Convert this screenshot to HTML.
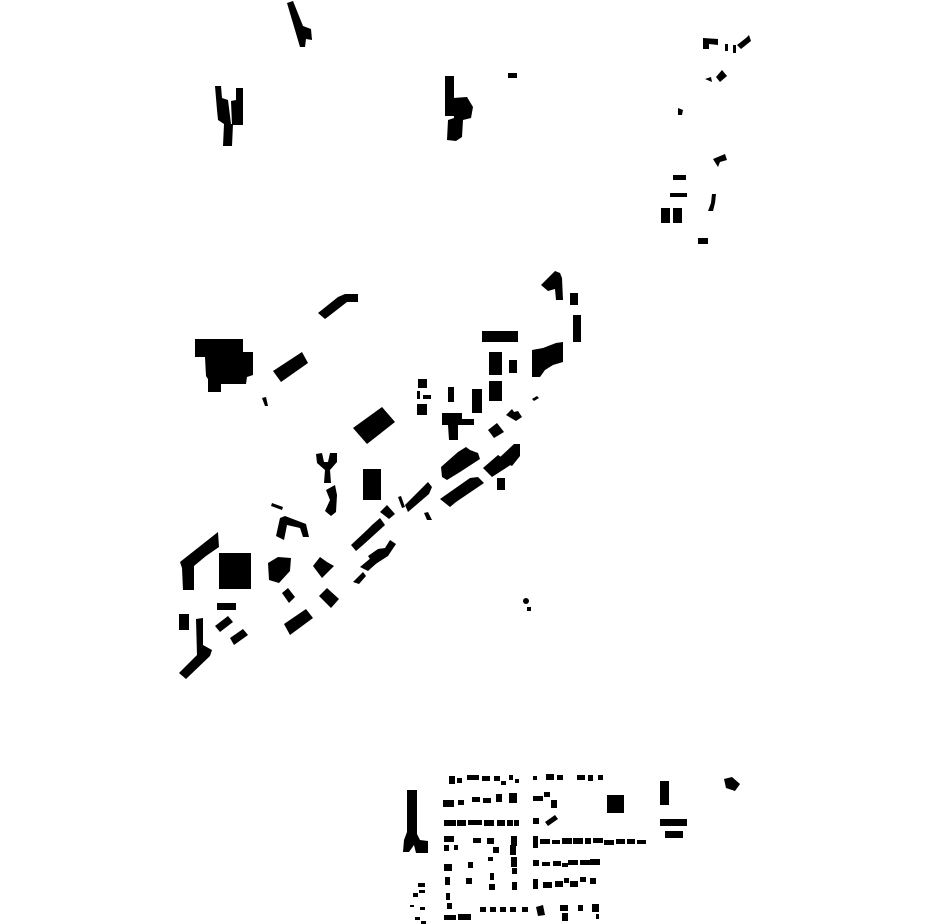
<!DOCTYPE html>
<html><head><meta charset="utf-8"><style>html,body{margin:0;padding:0;background:#fff}svg{display:block}</style></head>
<body>
<svg width="930" height="924" viewBox="0 0 930 924" xmlns="http://www.w3.org/2000/svg" fill="#000">
<!-- top -->
<polygon points="287,3 293,1 303,26 311,29 312,40 306,39 305,47 300,47"/>
<polygon points="215,86 221,86 222,98 228,100 231,124 233,124 232,146 223,146 224,124 218,120 217,110"/>
<polygon points="231,101 236,100 236,88 243,88 243,125 232,125"/>
<rect x="445" y="76" width="9" height="40"/>
<polygon points="453,98 467,97 473,107 471,118 463,120 462,137 456,141 447,140 448,120 454,118"/>
<rect x="508" y="73" width="9" height="5"/>
<polygon points="703,38 718,39 718,45 709,44 709,49 703,49"/>
<rect x="725" y="44" width="3" height="7"/><rect x="733" y="45" width="3" height="8"/>
<polygon points="737,45 746,38 749,35 751,41 741,49"/>
<polygon points="716,77 722,70 727,76 720,82"/><polygon points="705,79 711,77 712,82"/>
<polygon points="678,108 683,110 682,115 678,115"/>
<polygon points="713,159 725,154 727,160 720,162 718,167"/>
<rect x="673" y="175" width="13" height="5"/><rect x="670" y="193" width="17" height="4"/>
<rect x="661" y="208" width="9" height="15"/><rect x="673" y="208" width="9" height="15"/>
<polygon points="712,194 716,194 715,203 713,211 708,211 711,203"/>
<rect x="698" y="238" width="10" height="6"/>
<!-- middle cluster -->
<polygon points="195,339 243,339 243,352 253,352 253,375 247,377 246,384 221,384 221,392 208,392 208,379 206,376 205,357 195,357"/>
<polygon points="318,313 338,297 345,294 358,294 358,302 347,302 329,316 325,319"/>
<polygon points="273,371 302,352 308,363 281,382"/>
<polygon points="262,398 266,397 268,406 265,406"/>
<polygon points="541,285 555,271 560,273 562,278 563,300 556,300 555,289 548,291"/>
<rect x="570" y="293" width="8" height="12"/>
<rect x="573" y="315" width="8" height="27"/>
<rect x="482" y="331" width="36" height="11"/>
<rect x="489" y="352" width="13" height="23"/>
<rect x="509" y="360" width="8" height="13"/>
<rect x="489" y="381" width="13" height="20"/>
<polygon points="532,350 543,348 556,343 563,342 563,362 553,365 545,370 540,377 532,377"/>
<rect x="418" y="379" width="9" height="9"/><rect x="417" y="391" width="3" height="8"/><rect x="423" y="395" width="8" height="4"/><rect x="417" y="404" width="10" height="11"/>
<rect x="448" y="387" width="6" height="15"/>
<rect x="472" y="389" width="10" height="24"/>
<polygon points="532,399 537,396 539,398 534,401"/>
<polygon points="442,413 462,413 462,419 474,419 474,425 458,425 458,440 449,440 448,425 442,425"/>
<polygon points="506,415 512,409 514,412 518,411 522,417 516,421"/>
<polygon points="488,430 497,423 504,432 494,438"/>
<polygon points="441,467 458,452 466,447 470,450 478,453 480,459 460,472 447,480 442,477"/>
<polygon points="440,499 470,478 478,477 484,483 456,502 450,507"/>
<polygon points="483,468 498,455 512,464 492,477"/>
<polygon points="498,459 514,444 520,444 520,456 512,466"/>
<rect x="497" y="478" width="8" height="12"/>
<polygon points="405,505 428,482 432,487 429,494 408,512"/>
<polygon points="398,497 401,496 405,507 402,508"/>
<polygon points="424,513 428,512 432,520 427,520"/>
<polygon points="353,428 382,407 395,422 367,444"/>
<polygon points="316,454 322,453 324,462 328,462 330,453 337,453 337,462 330,470 331,483 324,483 325,470 317,463"/>
<polygon points="326,490 335,485 337,495 336,512 331,516 325,511 330,500"/>
<rect x="363" y="469" width="18" height="31"/>
<polygon points="271,506 272,503 283,507 282,510"/>
<polygon points="276,536 280,518 285,516 306,524 309,537 303,537 300,528 287,525 284,540"/>
<polygon points="380,512 387,505 395,514 389,519"/>
<polygon points="351,545 367,530 372,525 380,518 385,525 363,545 356,551"/>
<polygon points="353,582 363,572 366,576 359,584"/>
<polygon points="360,567 372,557 378,562 368,571"/>
<polygon points="368,556 378,549 385,548 390,540 396,544 388,556 374,565"/>
<polygon points="180,562 218,532 219,547 206,556 194,566 194,590 183,590 182,568"/>
<rect x="219" y="553" width="32" height="36"/>
<polygon points="268,563 278,557 291,558 290,571 279,583 269,580"/>
<polygon points="313,566 320,557 327,562 334,566 322,578"/>
<polygon points="282,593 288,588 295,597 289,603"/>
<polygon points="319,596 327,588 339,599 331,608"/>
<rect x="217" y="603" width="19" height="7"/>
<rect x="179" y="614" width="10" height="16"/>
<polygon points="215,626 228,616 233,622 220,632"/>
<polygon points="230,638 243,629 248,635 234,645"/>
<polygon points="284,624 306,609 313,618 290,635"/>
<polygon points="196,619 203,618 203,645 212,650 210,656 186,679 179,673 197,655"/>
<circle cx="526" cy="601" r="3"/><rect x="527" y="607" width="4" height="4"/>
<!-- bottom -->
<rect x="407" y="790" width="10" height="48"/>
<polygon points="407,832 416,832 420,840 428,841 428,853 416,853 414,845 409,852 403,852 404,840"/>
<rect x="607" y="795" width="17" height="18"/>
<rect x="660" y="781" width="9" height="24"/>
<rect x="660" y="819" width="27" height="7"/>
<rect x="665" y="831" width="18" height="7"/>
<polygon points="724,779 732,777 740,784 735,791 726,788"/>
<g>
<rect x="449" y="776" width="6" height="8"/><rect x="457" y="778" width="5" height="5"/><rect x="467" y="775" width="12" height="5"/><rect x="482" y="776" width="8" height="5"/><rect x="494" y="776" width="6" height="5"/><rect x="501" y="781" width="5" height="4"/><rect x="509" y="775" width="4" height="5"/><rect x="515" y="779" width="4" height="4"/>
<rect x="533" y="776" width="4" height="4"/><rect x="546" y="774" width="8" height="6"/><rect x="557" y="775" width="6" height="5"/><rect x="577" y="775" width="8" height="5"/><rect x="588" y="775" width="5" height="6"/><rect x="598" y="775" width="5" height="5"/>
<rect x="443" y="800" width="11" height="7"/><rect x="458" y="800" width="6" height="5"/><rect x="472" y="797" width="8" height="5"/><rect x="483" y="798" width="8" height="5"/><rect x="496" y="794" width="6" height="8"/><rect x="509" y="793" width="8" height="10"/>
<rect x="533" y="796" width="10" height="5"/><rect x="544" y="792" width="6" height="5"/><rect x="551" y="800" width="6" height="8"/>
<rect x="444" y="820" width="12" height="6"/><rect x="457" y="820" width="9" height="6"/><rect x="468" y="820" width="14" height="5"/><rect x="484" y="820" width="10" height="6"/><rect x="497" y="820" width="8" height="6"/><rect x="507" y="820" width="6" height="6"/><rect x="514" y="820" width="5" height="6"/>
<rect x="533" y="818" width="6" height="6"/><polygon points="545,822 555,815 558,819 548,826"/>
<rect x="533" y="836" width="5" height="12"/><rect x="540" y="839" width="10" height="5"/><rect x="552" y="840" width="8" height="4"/><rect x="562" y="838" width="10" height="6"/><rect x="573" y="838" width="10" height="6"/><rect x="585" y="838" width="6" height="6"/><rect x="593" y="838" width="10" height="5"/><rect x="604" y="840" width="10" height="5"/><rect x="616" y="839" width="9" height="5"/><rect x="627" y="839" width="8" height="5"/><rect x="637" y="840" width="9" height="4"/>
<rect x="444" y="836" width="10" height="6"/><rect x="444" y="845" width="5" height="6"/><rect x="454" y="845" width="4" height="5"/><rect x="473" y="838" width="8" height="5"/><rect x="487" y="838" width="7" height="6"/><rect x="493" y="847" width="6" height="6"/><rect x="511" y="836" width="6" height="10"/><rect x="510" y="845" width="6" height="10"/>
<rect x="533" y="860" width="6" height="6"/><rect x="542" y="862" width="8" height="4"/><rect x="553" y="861" width="8" height="5"/><rect x="562" y="863" width="6" height="4"/><rect x="568" y="860" width="10" height="5"/><rect x="580" y="860" width="10" height="5"/><rect x="590" y="859" width="10" height="6"/>
<rect x="444" y="864" width="8" height="7"/><rect x="468" y="862" width="5" height="6"/><rect x="488" y="857" width="5" height="4"/><rect x="511" y="857" width="6" height="10"/><rect x="512" y="868" width="5" height="6"/>
<rect x="533" y="879" width="5" height="10"/><rect x="543" y="882" width="9" height="6"/><rect x="555" y="881" width="8" height="6"/><rect x="564" y="878" width="5" height="5"/><rect x="570" y="881" width="8" height="6"/><rect x="580" y="877" width="6" height="5"/><rect x="590" y="878" width="6" height="6"/>
<rect x="445" y="877" width="5" height="8"/><rect x="466" y="878" width="6" height="6"/><rect x="490" y="873" width="4" height="7"/><rect x="489" y="884" width="6" height="6"/><rect x="512" y="882" width="5" height="8"/>
<rect x="446" y="893" width="4" height="7"/><rect x="447" y="903" width="5" height="6"/><rect x="444" y="915" width="12" height="5"/><rect x="458" y="914" width="13" height="6"/>
<rect x="480" y="907" width="6" height="5"/><rect x="490" y="907" width="6" height="5"/><rect x="500" y="907" width="6" height="5"/><rect x="510" y="907" width="6" height="5"/><rect x="522" y="907" width="6" height="5"/><polygon points="536,907 543,905 545,915 538,916"/>
<rect x="560" y="905" width="8" height="6"/><rect x="562" y="913" width="6" height="8"/><rect x="578" y="905" width="5" height="6"/><rect x="592" y="904" width="7" height="8"/><rect x="596" y="914" width="3" height="5"/>
<rect x="418" y="883" width="7" height="4"/><rect x="413" y="893" width="5" height="4"/><rect x="419" y="890" width="6" height="3"/><rect x="410" y="905" width="4" height="2"/><rect x="420" y="907" width="5" height="3"/><rect x="415" y="917" width="5" height="3"/><rect x="421" y="921" width="5" height="3"/>
</g>
</svg>
</body></html>
